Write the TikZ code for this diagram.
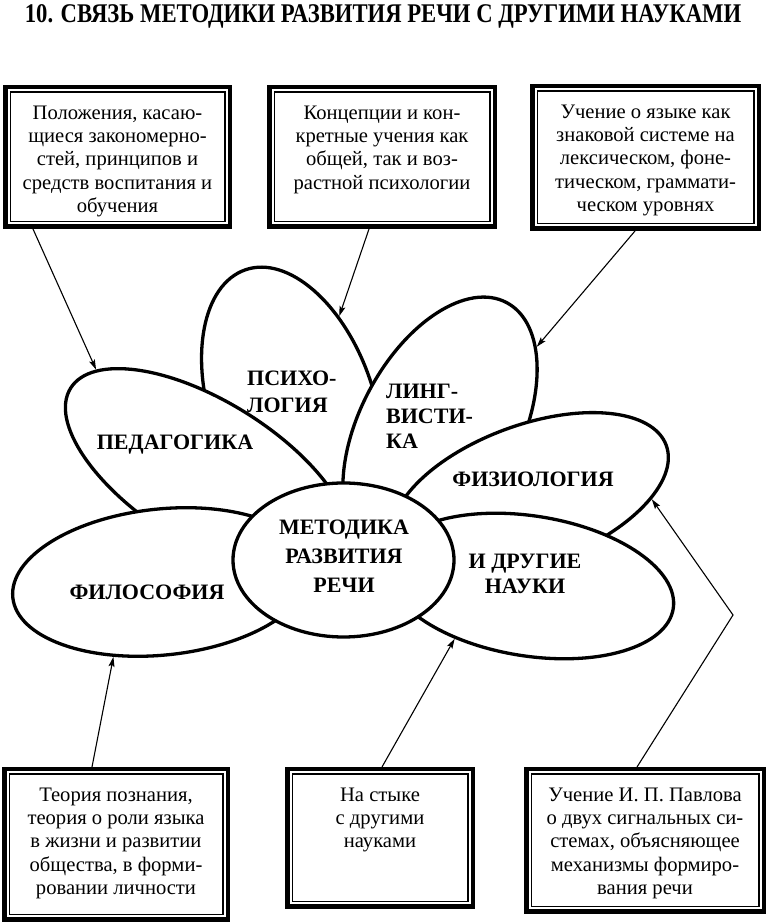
\documentclass[tikz,border=0pt]{standalone}
\usepackage{fontspec}
\setmainfont{Liberation Serif}
\usetikzlibrary{shapes.geometric,arrows.meta}
\newcommand{\boxlines}[3]{\parbox[c][#2][t]{#1}{\centering\rule{0pt}{32pt}#3}}
\begin{document}
\begin{tikzpicture}[
  x=1pt, y=1pt,
  headline/.style = {font=\bfseries\fontsize{27}{30}\selectfont, inner sep=0pt, anchor=base},
  infobox/.style = {draw, line width=4.5pt, fill=white, inner sep=0pt,
    font=\fontsize{20.6}{23.3}\selectfont,
    path picture={\draw[line width=1.3pt]
      ([shift={(4.9pt,4.9pt)}]path picture bounding box.south west) rectangle
      ([shift={(-4.9pt,-4.9pt)}]path picture bounding box.north east);}},
  petal/.style = {shape=ellipse, draw, line width=3.3pt, fill=white, inner sep=0pt},
  petlabel/.style = {font=\bfseries\fontsize{22}{27}\selectfont, inner sep=0pt},
  connector/.style = {line width=1.1pt, -{Stealth[length=10pt, width=6pt, inset=2pt]}}
  ]
  \useasboundingbox[fill=white] (0,0) rectangle (768,923);
  \node[headline] (title) at (383,900)
    {\scalebox{0.84}[1]{10. СВЯЗЬ МЕТОДИКИ РАЗВИТИЯ РЕЧИ С ДРУГИМИ НАУКАМИ}};

  \node[infobox] (b1) at (117.5,766) {\boxlines{224.5pt}{139.5pt}{Положения, касаю-\\
    щиеся закономерно-\\стей, принципов и\\средств воспитания и\\обучения}};
  \node[infobox] (b2) at (382,766) {\boxlines{225.5pt}{139.5pt}{Концепции и кон-\\
    кретные учения как\\общей, так и воз-\\растной психологии}};
  \node[infobox] (b3) at (645.5,765.5) {\boxlines{226.5pt}{142.5pt}{Учение о языке как\\
    знаковой системе на\\лексическом, фоне-\\тическом, граммати-\\ческом уровнях}};
  \node[infobox] (b4) at (116,78.5) {\boxlines{223.5pt}{150.5pt}{Теория познания,\\
    теория о роли языка\\в жизни и развитии\\общества, в форми-\\ровании личности}};
  \node[infobox] (b5) at (380,85) {\boxlines{185.5pt}{137.5pt}{На стыке\\
    с другими\\науками}};
  \node[infobox] (b6) at (645,82.5) {\boxlines{237.5pt}{142.5pt}{Учение И.~П.~Павлова\\
    о двух сигнальных си-\\стемах, объясняющее\\механизмы формиро-\\вания речи}};

  \node[petal, minimum width=286pt, minimum height=164pt, rotate=109] (psy) at (292,518) {};
  \node[petal, minimum width=324pt, minimum height=144pt, rotate=-32] (ped) at (208,449) {};
  \node[petal, minimum width=284pt, minimum height=160pt, rotate=62] (lin) at (440,495) {};
  \node[petal, minimum width=300pt, minimum height=146pt, rotate=6] (phil) at (162,341) {};
  \node[petal, minimum width=290pt, minimum height=140pt, rotate=20] (phys) at (530,428) {};
  \node[petal, minimum width=290pt, minimum height=140pt, rotate=-9] (other) at (530,337) {};
  \node[petal, minimum width=221pt, minimum height=154pt] (core) at (343.5,363) {};

  \node[petlabel, anchor=base] (pedtext) at (175,473) {ПЕДАГОГИКА};
  \node[petlabel, anchor=base] (philtext) at (147,323) {ФИЛОСОФИЯ};
  \node[petlabel, anchor=base] (phystext) at (533,436) {ФИЗИОЛОГИЯ};
  \node[petlabel, anchor=north west, align=left] (psytext) at (247,552.7) {ПСИХО-\\ЛОГИЯ};
  \node[petlabel, anchor=north west, align=left, font=\bfseries\fontsize{22}{25}\selectfont]
    (lintext) at (386,538.7) {ЛИНГ-\\ВИСТИ-\\КА};
  \node[petlabel, anchor=north, align=center, font=\bfseries\fontsize{22}{29}\selectfont]
    (coretext) at (344,403.7) {МЕТОДИКА\\РАЗВИТИЯ\\РЕЧИ};
  \node[petlabel, anchor=north, align=center, font=\bfseries\fontsize{22}{25}\selectfont]
    (othertext) at (525,368.7) {И ДРУГИЕ\\НАУКИ};

  \coordinate (bend) at (733,308);
  \draw[connector] ([xshift=-84.5pt]b1.south) -- (ped.169);
  \draw[connector] ([xshift=-13pt]b2.south) -- (psy.-47);
  \draw[connector] ([xshift=-10.5pt]b3.south) -- (lin.-22);
  \draw[connector] ([xshift=-24pt]b4.north) -- (phil.231);
  \draw[connector] ([xshift=2pt]b5.north) -- (other.224);
  \draw[connector] ([xshift=-8pt]b6.north) -- (bend) -- (phys.-22);
\end{tikzpicture}
\end{document}
